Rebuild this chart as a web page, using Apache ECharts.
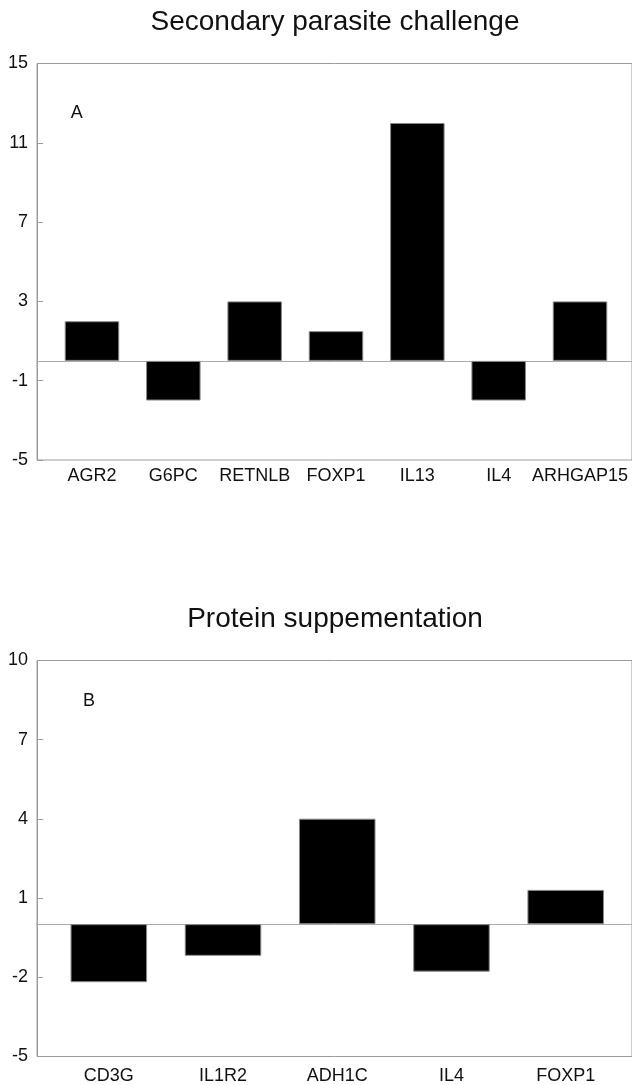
<!DOCTYPE html>
<html>
<head>
<meta charset="utf-8">
<script src="https://cdn.jsdelivr.net/npm/echarts@6.0.0/dist/echarts.min.js"></script>
<style>
  html, body { margin: 0; padding: 0; background: #fff; }
  #chart { width: 632px; height: 1085px; }
</style>
</head>
<body>
<div id="chart"></div>
<script>
// panel A - secondary parasite challenge
const genesA = ['AGR2', 'G6PC', 'RETNLB', 'FOXP1', 'IL13', 'IL4', 'ARHGAP15'];
const valuesA = [2, -2, 3, 1.5, 12, -2, 3];
const ticksA = [-5, -1, 3, 7, 11, 15];

// panel B - protein supplementation
const genesB = ['CD3G', 'IL1R2', 'ADH1C', 'IL4', 'FOXP1'];
const valuesB = [-2.2, -1.2, 4, -1.8, 1.3];
const ticksB = [-5, -2, 1, 4, 7, 10];

const font = '"Liberation Sans", Arial, sans-serif';
const lineGray = '#9a9a9a';
const textCol = '#111';

function frameAxes(gridIndex, ticks) {
  // frame grid: left axis with ticks/labels and a line at zero
  return {
    x: {
      gridIndex: gridIndex,
      type: 'category',
      data: [''],
      axisLine: { show: true, onZero: true, lineStyle: { color: '#aaa', width: 1 } },
      axisTick: { show: false },
      axisLabel: { show: false },
      splitLine: { show: false }
    },
    y: {
      gridIndex: gridIndex,
      type: 'value',
      min: ticks[0],
      max: ticks[ticks.length - 1],
      axisLine: { show: true, lineStyle: { color: lineGray } },
      axisTick: { show: true, inside: true, length: 6, customValues: ticks, lineStyle: { color: lineGray } },
      axisLabel: { show: true, customValues: ticks, fontSize: 18, fontFamily: font, color: textCol, margin: 9 },
      splitLine: { show: false }
    }
  };
}

function dataAxes(gridIndex, genes, ticks, margin) {
  return {
    x: {
      gridIndex: gridIndex,
      type: 'category',
      data: genes,
      position: 'bottom',
      axisLine: { show: false, onZero: false },
      axisTick: { show: false },
      axisLabel: { fontSize: 18, fontFamily: font, color: textCol, margin: margin, interval: 0 }
    },
    y: {
      gridIndex: gridIndex,
      type: 'value',
      show: false,
      min: ticks[0],
      max: ticks[ticks.length - 1]
    }
  };
}

const fA = frameAxes(0, ticksA);
const dA = dataAxes(1, genesA, ticksA, 7);
const fB = frameAxes(2, ticksB);
const dB = dataAxes(3, genesB, ticksB, 11);

const barStyle = { color: '#000', borderColor: '#888', borderWidth: 1 };

const option = {
  backgroundColor: '#fff',
  animation: false,
  grid: [
    { left: 37, right: -20, top: 63.5, height: 396.5, show: true, borderColor: lineGray, borderWidth: 1 },
    { left: 51.3, right: 11.3, top: 63.5, height: 396.5 },
    { left: 37, right: -20, top: 660.5, height: 396, show: true, borderColor: lineGray, borderWidth: 1 },
    { left: 51.7, right: 9.2, top: 660.5, height: 396 }
  ],
  xAxis: [fA.x, dA.x, fB.x, dB.x],
  yAxis: [fA.y, dA.y, fB.y, dB.y],
  graphic: [
    { type: 'text', x: 335, y: 22.5, style: { text: 'Secondary parasite challenge', font: '28px ' + font, fill: textCol, align: 'center', verticalAlign: 'middle' } },
    { type: 'text', x: 335, y: 619, style: { text: 'Protein suppementation', font: '28px ' + font, fill: textCol, align: 'center', verticalAlign: 'middle' } },
    { type: 'text', x: 76.7, y: 113, style: { text: 'A', font: '18px ' + font, fill: textCol, align: 'center', verticalAlign: 'middle' } },
    { type: 'text', x: 89, y: 700.7, style: { text: 'B', font: '18px ' + font, fill: textCol, align: 'center', verticalAlign: 'middle' } }
  ],
  series: [
    { type: 'bar', xAxisIndex: 1, yAxisIndex: 1, data: valuesA, barWidth: '67%', itemStyle: barStyle },
    { type: 'bar', xAxisIndex: 3, yAxisIndex: 3, data: valuesB, barWidth: '67%', itemStyle: barStyle }
  ]
};

const chart = echarts.init(document.getElementById('chart'));
chart.setOption(option);
</script>
</body>
</html>
